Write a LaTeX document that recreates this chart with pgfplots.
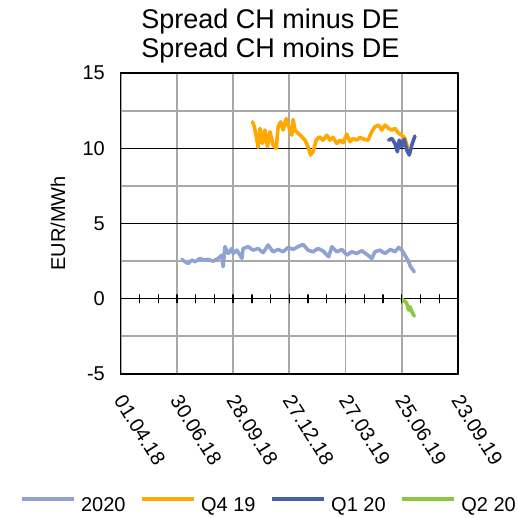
\documentclass[border=0pt]{standalone}
\usepackage{pgfplots}
\pgfplotsset{compat=1.18}
\usepackage{fontspec}
\setmainfont{Liberation Sans}
\definecolor{c2020}{HTML}{8FA2D4}
\definecolor{cqfour}{HTML}{FFA800}
\definecolor{cqone}{HTML}{4A5FAB}
\definecolor{cqtwo}{HTML}{8DC63F}
\definecolor{gridgray}{HTML}{A8A8A8}

% x = days since 01.04.18
\pgfplotstableread{
d v
98 2.61
103 2.46
108 2.35
114 2.57
119 2.46
127 2.68
132 2.57
140 2.61
148 2.50
156 2.68
162 2.90
164 2.13
167 3.46
172 3.01
178 3.34
180 3.01
186 3.23
194 2.68
196 3.34
204 3.46
212 3.23
220 3.34
228 3.06
236 3.57
244 3.12
252 3.28
260 3.12
268 3.41
276 3.28
284 3.46
292 3.61
300 3.23
308 3.12
316 3.34
324 3.17
333 2.79
338 3.46
346 3.12
354 3.28
362 2.90
370 3.12
378 3.01
386 3.19
394 2.95
402 2.68
407 3.12
415 3.23
423 3.01
432 3.28
439 3.12
445 3.41
450 3.23
455 2.90
461 2.46
464 2.13
470 1.79
}\tyear

\pgfplotstableread{
d v
211 11.76
214 11.43
218 10.54
220 10.06
223 11.32
227 10.32
231 11.21
235 10.10
239 11.10
244 10.21
249 9.99
252 11.43
256 11.76
260 11.21
265 11.98
268 11.54
274 10.87
276 11.92
279 11.21
284 10.99
290 10.76
295 10.54
300 10.10
304 9.55
308 9.77
313 10.54
318 10.76
324 10.54
330 10.87
335 10.54
340 10.72
346 10.32
351 10.54
356 10.37
362 10.94
367 10.43
372 10.65
378 10.54
383 10.72
390 10.59
396 10.54
402 11.10
407 11.43
413 11.54
418 11.21
423 11.54
429 11.32
434 11.21
439 11.32
445 10.99
450 10.87
455 10.65
459 10.10
462 9.77
}\tqfour

\pgfplotstableread{
d v
429 10.54
434 10.65
439 10.32
443 9.77
446 10.54
450 10.10
454 10.59
458 9.88
462 9.55
466 10.21
471 10.81
}\tqone

\pgfplotstableread{
d v
450 -0.04
454 -0.13
458 -0.31
461 -0.75
463 -0.53
466 -0.86
470 -1.15
}\tqtwo

\begin{document}
\begin{tikzpicture}
\fontsize{20bp}{24bp}\selectfont
\path[use as bounding box] (-120.7bp,-144bp) rectangle (397.3bp,374bp);
\begin{axis}[
  at={(0,0)}, anchor=south west,
  width=337.3bp, height=301bp, scale only axis,
  xmin=0, xmax=540, ymin=-5, ymax=15,
  xtick={0,90,180,270,360,450,540},
  xticklabels={01.04.18,30.06.18,28.09.18,27.12.18,27.03.19,25.06.19,23.09.19},
  ytick={-5,0,5,10,15},
  minor ytick={-2.5,2.5,7.5,12.5},
  grid=both,
  major x grid style={draw=gridgray, line width=1.8bp},
  major y grid style={draw=black, line width=1.4bp},
  minor y grid style={draw=gridgray, line width=1.8bp},
  axis line style={black, line width=1.6bp},
  major tick length=0pt, minor tick length=0pt,
  /pgf/number format/assume math mode=true,
  ticklabel style={font=\fontsize{20bp}{24bp}\selectfont},
  yticklabel style={inner sep=0pt, xshift=-15.7bp},
  xticklabel style={yshift=-23bp, xshift=-1.5bp, rotate=-58, anchor=west, inner sep=0pt},
  ylabel={EUR/MWh},
  ylabel style={at={(axis description cs:-0.186,0.5)}, anchor=center, font=\fontsize{20bp}{24bp}\selectfont},
  legend columns=4,
  legend style={draw=none, fill=none, at={(axis description cs:0.437,-0.4385)}, anchor=center,
    font=\fontsize{20bp}{24bp}\selectfont,
    nodes={inner sep=0pt},
    /tikz/every odd column/.append style={column sep=5bp},
    /tikz/every even column/.append style={column sep=15bp}},
  legend image code/.code={\draw[#1] (0bp,0.35em) -- (52bp,0.35em);},
  line join=round, line cap=round,
]
\addplot[c2020, line width=3.6bp] table[x=d, y=v] {\tyear};
\addlegendentry{2020}
\addplot[cqfour, line width=3.6bp] table[x=d, y=v] {\tqfour};
\addlegendentry{Q4 19}
\addplot[cqone, line width=3.6bp] table[x=d, y=v] {\tqone};
\addlegendentry{Q1 20}
\addplot[cqtwo, line width=3.6bp] table[x=d, y=v] {\tqtwo};
\addlegendentry{Q2 20}
% tick marks on the zero line
\addplot[black, only marks, mark=|, mark size=4bp, mark options={line width=1.3bp}, forget plot]
  coordinates {(30,0) (60,0) (90,0) (120,0) (150,0) (180,0) (210,0) (240,0) (270,0)
    (300,0) (330,0) (360,0) (390,0) (420,0) (450,0) (480,0) (510,0)};
\end{axis}
\node[align=center, anchor=north, inner sep=0pt, font=\fontsize{27bp}{28.5bp}\selectfont]
  at (149.7bp,365bp) {Spread CH minus DE\\Spread CH moins DE};
\end{tikzpicture}
\end{document}
